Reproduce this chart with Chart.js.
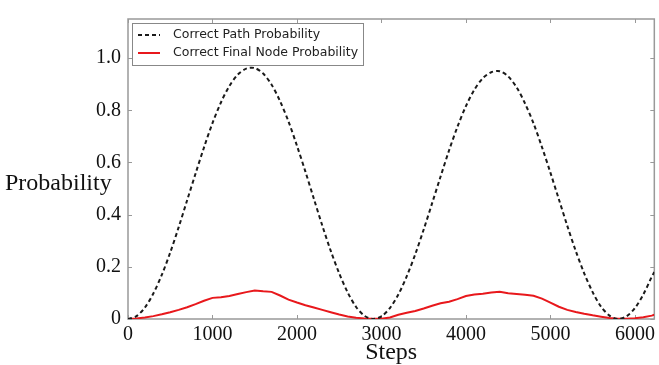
<!DOCTYPE html>
<html>
<head>
<meta charset="utf-8">
<script src="https://cdn.jsdelivr.net/npm/chart.js@4.4.0/dist/chart.umd.min.js"></script>
<style>
  html, body { margin: 0; padding: 0; background: #fff; }
  #wrap { width: 659px; height: 365px; }
</style>
</head>
<body>
<div id="wrap"><canvas id="myChart" width="659" height="365"></canvas></div>
<script>
// steps (x values), every 100 plus the right edge
const steps = [0,100,200,300,400,500,600,700,800,900,1000,1100,1200,1300,1400,1500,1600,1700,1800,1900,
  2000,2100,2200,2300,2400,2500,2600,2700,2800,2900,3000,3100,3200,3300,3400,3500,3600,3700,3800,3900,
  4000,4100,4200,4300,4400,4500,4600,4700,4800,4900,5000,5100,5200,5300,5400,5500,5600,5700,5800,5900,
  6000,6100,6200,6230];

// Correct Path Probability (dashed black)
const pathProb = [0,0.011,0.044,0.098,0.169,0.255,0.352,0.455,0.558,0.658,0.751,0.830,0.893,0.937,0.960,0.962,0.941,0.898,0.835,0.757,
  0.664,0.565,0.461,0.358,0.261,0.175,0.102,0.046,0.012,0.000,0.010,0.042,0.094,0.164,0.248,0.343,0.444,0.546,0.646,0.737,
  0.816,0.879,0.923,0.946,0.950,0.930,0.888,0.826,0.750,0.659,0.561,0.459,0.357,0.261,0.175,0.103,0.047,0.013,0.000,0.010,
  0.042,0.094,0.162,0.180];

// Correct Final Node Probability (red)
const nodeProb = [0,0.002,0.006,0.011,0.018,0.026,0.035,0.045,0.057,0.070,0.081,0.083,0.088,0.096,0.103,0.109,0.106,0.104,0.090,0.074,
  0.063,0.053,0.044,0.035,0.026,0.017,0.010,0.005,0.002,0.001,0.001,0.006,0.016,0.024,0.031,0.040,0.051,0.060,0.066,0.076,
  0.088,0.094,0.097,0.102,0.104,0.099,0.096,0.093,0.089,0.078,0.063,0.047,0.035,0.027,0.020,0.014,0.009,0.004,0.001,0.001,
  0.003,0.007,0.013,0.016];

const xTicks = [0,1000,2000,3000,4000,5000,6000];
const yTicks = [0,0.2,0.4,0.6,0.8,1.0];
const xMax = 6230;
const yMax = 1.15;

const serif = "'Liberation Serif', 'Times New Roman', serif";

// frame, inward ticks, axis titles and legend box
const decor = {
  id: 'decor',
  beforeDatasetsDraw(chart) {
    const c = chart.ctx, a = chart.chartArea;
    const xs = chart.scales.x, ys = chart.scales.y;
    c.save();
    c.strokeStyle = '#999';
    c.lineWidth = 1.5;
    c.strokeRect(a.left, a.top, a.right - a.left, a.bottom - a.top);
    c.lineWidth = 1;
    c.beginPath();
    xTicks.forEach(v => {
      const px = Math.round(xs.getPixelForValue(v)) + 0.5;
      c.moveTo(px, a.bottom); c.lineTo(px, a.bottom - 4);
      c.moveTo(px, a.top); c.lineTo(px, a.top + 4);
    });
    yTicks.forEach(v => {
      const py = Math.round(ys.getPixelForValue(v)) + 0.5;
      c.moveTo(a.left, py); c.lineTo(a.left + 4, py);
      c.moveTo(a.right, py); c.lineTo(a.right - 4, py);
    });
    c.stroke();
    c.restore();
  },
  afterDraw(chart) {
    const c = chart.ctx, a = chart.chartArea;
    c.save();
    c.fillStyle = '#111';
    c.font = '24px ' + serif;
    c.textBaseline = 'middle';
    c.textAlign = 'left';
    c.fillText('Probability', 5, 184);
    c.textAlign = 'center';
    c.fillText('Steps', (a.left + a.right) / 2, 353);

    // legend
    const lx = a.left + 4, ly = a.top + 4, lw = 231, lh = 42;
    c.fillStyle = '#fff';
    c.fillRect(lx, ly, lw, lh);
    c.strokeStyle = '#888';
    c.lineWidth = 1;
    c.strokeRect(lx + 0.5, ly + 0.5, lw, lh);
    chart.data.datasets.forEach((ds, i) => {
      const y = ly + 12 + i * 18;
      c.strokeStyle = ds.borderColor;
      c.lineWidth = ds.borderWidth;
      c.setLineDash(ds.borderDash || []);
      c.beginPath();
      c.moveTo(lx + 6, y); c.lineTo(lx + 28, y);
      c.stroke();
      c.setLineDash([]);
      c.fillStyle = '#222';
      c.font = "12.5px 'DejaVu Sans', sans-serif";
      c.textAlign = 'left';
      c.fillText(ds.label, lx + 41, y);
    });
    c.restore();
  }
};

const ctx = document.getElementById('myChart').getContext('2d');
const myChart = new Chart(ctx, {
  type: 'line',
  data: {
    datasets: [{
      label: 'Correct Path Probability',
      data: steps.map((s, i) => ({x: s, y: pathProb[i]})),
      borderColor: '#1a1a1a',
      borderWidth: 2,
      borderDash: [4, 3],
      pointRadius: 0,
      tension: 0.3,
      fill: false
    }, {
      label: 'Correct Final Node Probability',
      data: steps.map((s, i) => ({x: s, y: nodeProb[i]})),
      borderColor: '#e8181c',
      borderWidth: 2,
      pointRadius: 0,
      tension: 0,
      fill: false
    }]
  },
  options: {
    responsive: false,
    animation: false,
    layout: { padding: { top: 13, right: 3, left: 0, bottom: 0 } },
    plugins: { legend: { display: false }, tooltip: { enabled: false } },
    scales: {
      x: {
        type: 'linear',
        min: 0,
        max: xMax,
        afterBuildTicks: s => { s.ticks = xTicks.map(v => ({value: v})); },
        afterFit: s => { s.height = 46; },
        grid: { display: false, drawTicks: false },
        border: { display: false },
        ticks: {
          font: { family: serif, size: 20 },
          color: '#111',
          padding: 4,
          maxRotation: 0,
          callback: v => String(v)
        }
      },
      y: {
        min: 0,
        max: yMax,
        afterBuildTicks: s => { s.ticks = yTicks.map(v => ({value: v})); },
        afterFit: s => { s.width = 128; },
        grid: { display: false, drawTicks: false },
        border: { display: false },
        ticks: {
          font: { family: serif, size: 20 },
          color: '#111',
          padding: 7,
          callback: v => v === 0 ? '0' : v.toFixed(1)
        }
      }
    }
  },
  plugins: [decor]
});
</script>
</body>
</html>
